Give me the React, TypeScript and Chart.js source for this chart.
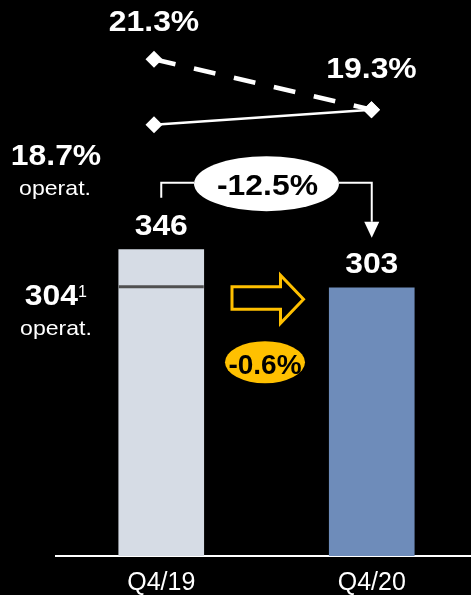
import React, { useEffect, useRef } from 'react';
import { Chart, registerables } from 'chart.js';

Chart.register(...registerables);

// ---- data ----
const categories = ['Q4/19', 'Q4/20'];
const revenue = [346, 303];
const operatingRevenueQ419 = 304;
const marginReported = [21.3, 19.3];
const marginOperating = [18.7, 19.3];
const growthReported = '-12.5%';
const growthOperating = '-0.6%';
const operatLabel = 'operat.';
const footnoteMark = '1';
const barColors = ['#D6DCE5', '#6E8CBA'];

const FONT = '"Liberation Sans", Arial, Helvetica, sans-serif';

function txt(
  ctx: CanvasRenderingContext2D,
  s: string,
  x: number,
  y: number,
  size: number,
  bold: boolean,
  color: string,
  align: CanvasTextAlign = 'center',
  sx = 1.1
) {
  ctx.save();
  ctx.font = `${bold ? 'bold ' : ''}${size}px ${FONT}`;
  ctx.fillStyle = color;
  ctx.textAlign = align;
  ctx.textBaseline = 'alphabetic';
  ctx.translate(x, y);
  ctx.scale(sx, 1);
  ctx.fillText(s, 0, 0);
  ctx.restore();
}

const pct = (v: number) => `${v.toFixed(1)}%`;

const annotate = {
  id: 'annotate',
  afterDatasetsDraw(chart: any) {
    const ctx: CanvasRenderingContext2D = chart.ctx;
    const bars = chart.getDatasetMeta(0).data;
    const dashed = chart.getDatasetMeta(1).data;
    const solid = chart.getDatasetMeta(2).data;
    const yS = chart.scales.y;
    const b1 = bars[0];
    const b2 = bars[1];
    const white = '#FFFFFF';

    // operational reference line on first bar
    const y304 = yS.getPixelForValue(operatingRevenueQ419);
    const hw = b1.width / 2;
    ctx.save();
    ctx.strokeStyle = '#505050';
    ctx.lineWidth = 3;
    ctx.beginPath();
    ctx.moveTo(b1.x - hw, y304);
    ctx.lineTo(b1.x + hw, y304);
    ctx.stroke();
    ctx.restore();

    // bar value labels
    bars.forEach((b: any, i: number) => {
      txt(ctx, String(revenue[i]), b.x, b.y - 15, 29, true, white);
    });

    // margin labels
    txt(ctx, pct(marginReported[0]), dashed[0].x, dashed[0].y - 28, 29, true, white);
    txt(ctx, pct(marginReported[1]), dashed[1].x, dashed[1].y - 32, 29, true, white);
    txt(ctx, pct(marginOperating[0]), solid[0].x - 98, solid[0].y + 40, 29, true, white);
    txt(ctx, operatLabel, solid[0].x - 99, solid[0].y + 70, 21, false, white);

    // 304 operat. label
    const left = chart.chartArea.left;
    txt(ctx, String(operatingRevenueQ419), left + 22, y304 + 18, 29, true, white, 'right');
    txt(ctx, footnoteMark, left + 22, y304 + 10, 16, false, white, 'left', 1);
    txt(ctx, operatLabel, left, y304 + 48, 21, false, white);

    // connector with -12.5%
    const mid = (b1.x + b2.x) / 2;
    const cy = b1.y - 67;
    const rx = 72.5;
    const ry = 27.5;
    ctx.save();
    ctx.strokeStyle = white;
    ctx.fillStyle = white;
    ctx.lineWidth = 2;
    ctx.beginPath();
    ctx.moveTo(b1.x, b1.y - 52);
    ctx.lineTo(b1.x, cy);
    ctx.lineTo(mid - rx, cy);
    ctx.moveTo(mid + rx, cy);
    ctx.lineTo(b2.x, cy);
    ctx.lineTo(b2.x, b2.y - 66);
    ctx.stroke();
    ctx.beginPath();
    ctx.moveTo(b2.x - 7.5, b2.y - 66);
    ctx.lineTo(b2.x + 7.5, b2.y - 66);
    ctx.lineTo(b2.x, b2.y - 50);
    ctx.closePath();
    ctx.fill();
    ctx.beginPath();
    ctx.ellipse(mid, cy + 1, rx, ry, 0, 0, Math.PI * 2);
    ctx.fill();
    ctx.restore();
    txt(ctx, growthReported, mid + 1, cy + 12, 29, true, '#000000');

    // orange outlined arrow
    const yellow = '#FFC000';
    ctx.save();
    ctx.strokeStyle = yellow;
    ctx.fillStyle = '#000000';
    ctx.lineWidth = 3;
    ctx.lineJoin = 'miter';
    ctx.beginPath();
    ctx.moveTo(mid - 34.5, b2.y - 1);
    ctx.lineTo(mid + 14, b2.y - 1);
    ctx.lineTo(mid + 14, b2.y - 12.5);
    ctx.lineTo(mid + 37, b2.y + 11.5);
    ctx.lineTo(mid + 14, b2.y + 35.5);
    ctx.lineTo(mid + 14, b2.y + 21.5);
    ctx.lineTo(mid - 34.5, b2.y + 21.5);
    ctx.closePath();
    ctx.fill();
    ctx.stroke();

    // -0.6% pill
    ctx.fillStyle = yellow;
    ctx.beginPath();
    ctx.ellipse(mid - 1.5, b2.y + 74.5, 40, 21, 0, 0, Math.PI * 2);
    ctx.fill();
    ctx.restore();
    txt(ctx, growthOperating, mid - 1.5, b2.y + 86, 28, true, '#000000', 'center', 1.0);
  },
};

export default function App() {
  const ref = useRef<HTMLCanvasElement | null>(null);

  useEffect(() => {
    document.body.style.margin = '0';
    document.body.style.background = '#000';
    const canvas = ref.current;
    if (!canvas) return;
    const chart = new Chart(canvas, {
      type: 'bar',
      data: {
        labels: categories,
        datasets: [
          {
            type: 'bar',
            data: revenue,
            backgroundColor: barColors,
            borderWidth: 0,
            grouped: false,
            barThickness: 85,
            xAxisID: 'x',
            yAxisID: 'y',
            order: 2,
          } as any,
          {
            type: 'line',
            data: marginReported.map((v, i) => ({ x: i, y: v })),
            borderColor: '#FFFFFF',
            borderWidth: 4.5,
            borderDash: [22, 19],
            pointStyle: 'rectRot',
            pointRadius: 8.5,
            pointBackgroundColor: '#FFFFFF',
            pointBorderWidth: 0,
            xAxisID: 'x2',
            yAxisID: 'y2',
            clip: false,
            order: 1,
          } as any,
          {
            type: 'line',
            data: marginOperating.map((v, i) => ({ x: i, y: v })),
            borderColor: '#FFFFFF',
            borderWidth: 2.5,
            pointStyle: 'rectRot',
            pointRadius: 8.5,
            pointBackgroundColor: '#FFFFFF',
            pointBorderWidth: 0,
            xAxisID: 'x2',
            yAxisID: 'y2',
            clip: false,
            order: 0,
          } as any,
        ],
      },
      options: {
        responsive: false,
        animation: false,
        devicePixelRatio: 1,
        layout: { autoPadding: false, padding: { left: 56, right: 0, top: 0, bottom: 0 } },
        plugins: {
          legend: { display: false },
          tooltip: { enabled: false },
        },
        scales: {
          x: {
            type: 'category',
            position: 'bottom',
            offset: true,
            grid: { display: false, drawTicks: false },
            border: { display: true, color: '#FFFFFF', width: 2 },
            ticks: {
              color: '#FFFFFF',
              padding: 12,
              font: { family: FONT, size: 25 },
              maxRotation: 0,
            },
            afterFit: (s: any) => {
              s.height = 39;
            },
          },
          x2: {
            type: 'linear',
            display: false,
            offset: false,
            min: -0.4506,
            max: 1.485,
          },
          y: {
            display: false,
            min: 0,
            max: 628,
          },
          y2: {
            display: false,
            position: 'right',
            min: 1.59,
            max: 23.65,
          },
        } as any,
      },
      plugins: [annotate],
    });
    return () => chart.destroy();
  }, []);

  return (
    <div
      style={{
        position: 'fixed',
        left: 0,
        top: 0,
        width: 471,
        height: 595,
        overflow: 'hidden',
        background: '#000',
      }}
    >
      <canvas
        ref={ref}
        width={477}
        height={595}
        style={{ display: 'block', width: 477, height: 595 }}
      />
    </div>
  );
}
